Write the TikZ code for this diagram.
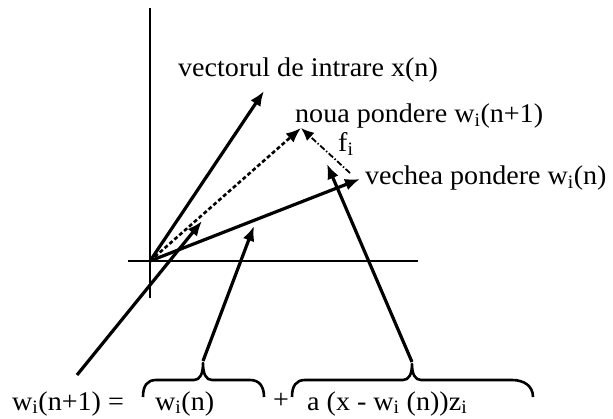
\documentclass[tikz,border=0pt]{standalone}
\usepackage{fontspec}
\setmainfont{Liberation Serif}[FakeStretch=1.04]
\usetikzlibrary{arrows.meta, positioning}

\begin{document}
\begin{tikzpicture}[x=1pt, y=-1pt,
        lbl/.style={anchor=base west, inner sep=0pt, font=\fontsize{27}{30}\selectfont},
        axis/.style={line width=1.3pt},
        vec/.style={-{Latex[length=15pt,width=12pt]}, line width=3.2pt},
        dvec/.style={vec, line width=2.6pt, dash pattern=on 4pt off 2.5pt},
        fvec/.style={-{Latex[length=13pt,width=11pt]}, line width=1.8pt,
                     dash pattern=on 6pt off 2pt on 1.5pt off 2pt},
        brc/.style={line width=2.6pt, line join=round}]
  \useasboundingbox (0,0) rectangle (613,419);
  \draw[axis] (150,8) -- (150,298);
  \draw[axis] (128,261) -- (418,261);
  \coordinate (O) at (150,261);
  \coordinate (X) at (264,91);
  \coordinate (N) at (301,128);
  \coordinate (W) at (360,179);
  \coordinate (F) at (350,173);
  \coordinate (onN) at (202,221);
  \coordinate (onW) at (254,226);
  \coordinate (onF) at (327,164);
  \coordinate (lhs) at (77,375);
  \coordinate (b1tip) at (203,361);
  \coordinate (b2tip) at (412,362);

  \node[lbl] (lblx) at (178,77) {vectorul de intrare x(n)};
  \node[lbl] (lblnew) at (295,123) {noua pondere w\textsubscript{i}(n+1)};
  \node[lbl] (lblfi) at (338,152) {f\textsubscript{i}};
  \node[lbl] (lblold) at (365,185) {vechea pondere w\textsubscript{i}(n)};
  \node[lbl] (eqlhs) at (12,410) {w\textsubscript{i}(n+1) =};
  \node[lbl] (eqold) at (155,410) {w\textsubscript{i}(n)};
  \node[lbl] (eqplus) at (273,408) {+};
  \node[lbl] (eqcorr) at (307,410) {a (x - w\textsubscript{i} (n))z\textsubscript{i}};

  \draw[vec] (O) -- (X);
  \draw[dvec] (O) -- (N);
  \draw[vec] (O) -- (W);
  \draw[fvec] (F) -- (N);
  \draw[vec] (lhs) -- (onN);
  \draw[vec] (b1tip) -- (onW);
  \draw[vec] (b2tip) -- (onF);

  \draw[brc] (143,397) .. controls (143,386) and (147,380) .. (156,380) -- (194,380)
    .. controls (200,380) and (203,374) .. (203,363)
    .. controls (203,374) and (206,380) .. (212,380) -- (250,380)
    .. controls (259,380) and (264,386) .. (264,397);
  \draw[brc] (292,397) .. controls (292,386) and (296,380) .. (305,380) -- (403,380)
    .. controls (409,380) and (412,374) .. (412,364)
    .. controls (412,374) and (415,380) .. (421,380) -- (512,380)
    .. controls (524,380) and (533,386) .. (533,397);
\end{tikzpicture}
\end{document}
